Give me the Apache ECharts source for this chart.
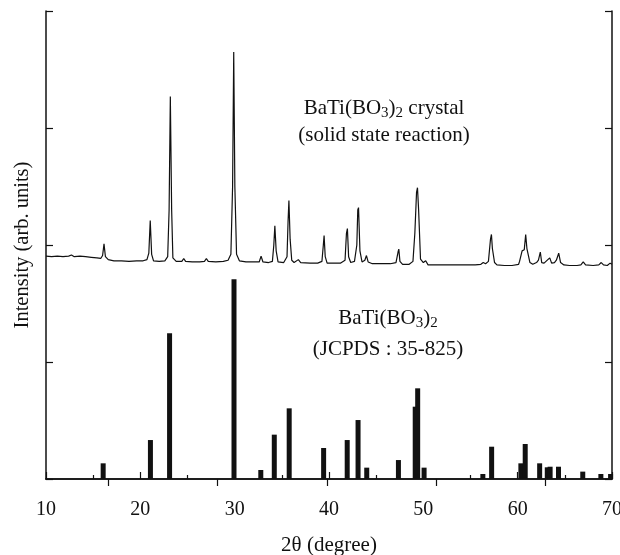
<!DOCTYPE html>
<html>
<head>
<meta charset="utf-8">
<script src="https://cdn.jsdelivr.net/npm/echarts@6/dist/echarts.min.js"></script>
<style>
  html, body { margin: 0; padding: 0; background: #fff; }
  #chart { width: 620px; height: 555px; }
</style>
</head>
<body>
<div id="chart"></div>
<script>
// 测量图谱 (2θ, 强度)
const patternPoints = [
    [10.0, 1.905], [10.6, 1.9], [11.2, 1.905], [11.8, 1.9], [12.4, 1.905], [12.7, 1.915], [13.0, 1.9],
    [13.6, 1.905], [14.2, 1.9], [14.8, 1.895], [15.4, 1.89], [15.8, 1.885],
    [16.0, 1.91], [16.15, 2.01], [16.3, 1.9], [16.6, 1.875], [17.2, 1.865], [18.0, 1.865], [18.8, 1.86],
    [19.6, 1.865], [20.3, 1.865], [20.7, 1.875],
    [20.9, 1.93], [21.05, 2.21], [21.2, 1.92], [21.4, 1.865], [22.0, 1.86], [22.6, 1.865], [22.9, 1.9],
    [23.05, 2.3], [23.18, 3.27], [23.32, 2.3], [23.45, 1.89], [23.8, 1.86], [24.4, 1.86],
    [24.6, 1.885], [24.8, 1.86], [25.5, 1.855], [26.3, 1.855], [26.8, 1.86], [27.0, 1.885], [27.2, 1.86],
    [28.0, 1.855], [28.8, 1.86], [29.3, 1.87], [29.6, 1.92],
    [29.78, 2.5], [29.9, 3.65], [30.02, 2.5], [30.2, 1.92], [30.5, 1.865], [31.2, 1.855], [32.0, 1.855],
    [32.6, 1.855], [32.8, 1.905], [33.0, 1.855], [33.6, 1.85], [34.0, 1.86],
    [34.15, 2.0], [34.26, 2.165], [34.4, 1.95], [34.6, 1.855], [35.2, 1.85], [35.55, 1.9],
    [35.66, 2.2], [35.75, 2.38], [35.88, 2.05], [36.05, 1.87], [36.3, 1.85], [36.75, 1.875], [37.0, 1.85],
    [38.0, 1.845], [38.8, 1.845], [39.25, 1.86],
    [39.4, 2.0], [39.48, 2.08], [39.6, 1.9], [39.8, 1.845], [40.5, 1.845], [41.2, 1.845], [41.7, 1.87],
    [41.85, 2.1], [41.95, 2.14], [42.08, 1.9], [42.3, 1.85], [42.7, 1.86], [42.95, 2.0],
    [43.05, 2.3], [43.13, 2.32], [43.28, 1.95], [43.5, 1.855], [43.8, 1.87], [43.97, 1.91], [44.15, 1.855],
    [44.6, 1.84], [45.5, 1.84], [46.5, 1.84], [47.1, 1.85],
    [47.32, 1.94], [47.4, 1.965], [47.52, 1.86], [47.8, 1.835], [48.5, 1.835], [48.9, 1.86], [49.1, 2.1],
    [49.28, 2.45], [49.38, 2.49], [49.5, 2.3], [49.7, 1.88], [50.0, 1.85], [50.25, 1.865], [50.5, 1.83],
    [51.5, 1.83], [52.5, 1.83], [53.5, 1.83], [54.5, 1.83], [55.5, 1.83], [56.1, 1.835], [56.35, 1.85],
    [56.6, 1.84], [56.9, 1.86],
    [57.12, 2.05], [57.22, 2.09], [57.32, 1.97], [57.42, 1.97], [57.55, 1.85], [57.8, 1.83], [58.6, 1.825],
    [59.4, 1.825], [60.1, 1.835], [60.2, 1.86], [60.47, 1.95], [60.7, 1.96], [60.85, 2.09], [60.98, 1.97],
    [61.1, 1.97], [61.3, 1.85], [61.6, 1.835], [62.0, 1.85], [62.2, 1.87], [62.4, 1.94], [62.55, 1.85],
    [62.8, 1.845], [63.0, 1.86], [63.4, 1.89], [63.6, 1.845], [63.9, 1.85], [64.1, 1.87], [64.35, 1.93],
    [64.55, 1.85], [64.9, 1.83], [65.5, 1.825], [66.3, 1.825], [66.7, 1.83], [66.95, 1.855], [67.2, 1.83],
    [68.0, 1.825], [68.6, 1.83], [68.86, 1.85], [69.1, 1.83], [69.5, 1.825], [69.8, 1.845], [70.0, 1.835]
];

// JCPDS 35-825 标准峰位与相对强度
const refAngles = [16.06, 21.07, 23.1, 29.93, 32.77, 34.2, 35.78, 39.43, 41.93, 43.08, 44.0, 47.36,
    49.14, 49.4, 50.08, 56.31, 57.24, 60.34, 60.8, 62.33, 63.14, 63.44, 64.33, 66.9, 68.82, 69.85];
const refIntensity = [0.134, 0.333, 1.245, 1.707, 0.077, 0.379, 0.604, 0.265, 0.333, 0.504, 0.097, 0.162,
    0.618, 0.775, 0.097, 0.043, 0.276, 0.134, 0.299, 0.134, 0.1, 0.105, 0.105, 0.063, 0.043, 0.043];

// 顶部坐标轴刻度位置
const topTickValues = [16.6, 28.2, 39.8, 51.4, 62.9];

const font = 'Liberation Serif';
const ink = '#111';

const chart = echarts.init(document.getElementById('chart'));

const axisLine = { show: true, lineStyle: { color: ink, width: 1.5 } };
const tickStyle = { color: ink, width: 1.2 };

// 注释文字（带下标）
const rich = (lh) => ({
    n: { fontFamily: font, fontSize: 21, fill: ink, lineHeight: lh },
    s: { fontFamily: font, fontSize: 15, fill: ink, lineHeight: lh, padding: [9, 0, 0, 0] }
});

const option = {
    animation: false,
    grid: { left: 46, right: 8, top: 11, bottom: 76, outerBoundsMode: 'none' },
    xAxis: [{
        type: 'value',
        min: 10,
        max: 70,
        interval: 10,
        name: '2θ (degree)',
        nameLocation: 'middle',
        nameGap: 56,
        nameTextStyle: { fontFamily: font, fontSize: 21, color: ink },
        axisLine: axisLine,
        axisTick: { inside: true, length: 7, lineStyle: tickStyle },
        minorTick: { show: true, splitNumber: 2, length: 4, lineStyle: tickStyle },
        axisLabel: { fontFamily: font, fontSize: 20, color: ink, margin: 21 },
        splitLine: { show: false }
    }, {
        type: 'value',
        position: 'top',
        min: 10,
        max: 70,
        axisLine: axisLine,
        axisTick: { inside: true, length: 7, customValues: topTickValues, lineStyle: tickStyle },
        axisLabel: { show: false },
        splitLine: { show: false }
    }],
    yAxis: [{
        type: 'value',
        min: 0,
        max: 4,
        interval: 1,
        name: 'Intensity (arb. units)',
        nameLocation: 'middle',
        nameGap: 13,
        nameTextStyle: { fontFamily: font, fontSize: 20.5, color: ink },
        axisLine: axisLine,
        axisTick: { inside: true, length: 7, lineStyle: tickStyle },
        axisLabel: { show: false },
        splitLine: { show: false }
    }, {
        type: 'value',
        position: 'right',
        min: 0,
        max: 4,
        interval: 1,
        axisLine: axisLine,
        axisTick: { inside: true, length: 7, lineStyle: tickStyle },
        axisLabel: { show: false },
        splitLine: { show: false }
    }],
    series: [{
        type: 'line',
        data: patternPoints,
        showSymbol: false,
        lineStyle: { color: ink, width: 1.2 },
        z: 3
    }, {
        type: 'bar',
        data: refAngles.map((a, i) => [a, refIntensity[i]]),
        barWidth: 5,
        itemStyle: { color: ink },
        z: 2
    }],
    graphic: [{
        type: 'text',
        x: 384,
        y: 122,
        style: {
            text: '{n|BaTi(BO}{s|3}{n|)}{s|2}{n| crystal}\n{n|(solid state reaction)}',
            align: 'center',
            verticalAlign: 'middle',
            rich: rich(27)
        }
    }, {
        type: 'text',
        x: 388,
        y: 334,
        style: {
            text: '{n|BaTi(BO}{s|3}{n|)}{s|2}\n{n|(JCPDS : 35-825)}',
            align: 'center',
            verticalAlign: 'middle',
            rich: rich(31)
        }
    }]
};

chart.setOption(option);
</script>
</body>
</html>
